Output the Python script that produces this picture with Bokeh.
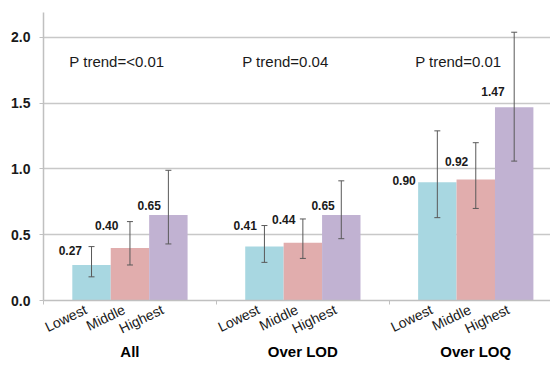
from bokeh.plotting import figure
from bokeh.models import (ColumnDataSource, Range1d, LinearAxis, FixedTicker, Whisker,
                          LabelSet, NumeralTickFormatter, TeeHead)
from bokeh.core.properties import value
from bokeh.embed import file_html
from bokeh.resources import INLINE

# ---- data ----
groups = ["All", "Over LOD", "Over LOQ"]
levels = ["Lowest", "Middle", "Highest"]
values_all = [0.27, 0.40, 0.65]
values_lod = [0.41, 0.44, 0.65]
values_loq = [0.90, 0.92, 1.47]
lower_all = [0.18, 0.27, 0.43]
lower_lod = [0.29, 0.32, 0.47]
lower_loq = [0.63, 0.70, 1.06]
upper_all = [0.41, 0.60, 0.99]
upper_lod = [0.57, 0.62, 0.91]
upper_loq = [1.29, 1.20, 2.04]
p_trend = ["P trend=<0.01", "P trend=0.04", "P trend=0.01"]
y_ticks = [0.0, 0.5, 1.0, 1.5, 2.0]
p_trend_y = 1.82

values = [values_all, values_lod, values_loq]
lowers = [lower_all, lower_lod, lower_loq]
uppers = [upper_all, upper_lod, upper_loq]

# ---- layout / style (not data) ----
colors = ["#A8D7E1", "#E1ADAD", "#C1B2D2"]
PITCH = 9      # group pitch in half-bar units
BAR = 2        # bar width in half-bar units
X0, X1 = -1.5, 24.89
LAB_SHIFT = 0.3   # shifts level labels slightly left
label_dx = [-2, -4, 0, 0, 0, 1, -14, 0, -2]
label_dy = [14, 22, 10, 21, 23, 10, 2, 18, 16]
FONT = "Liberation Sans"

xs, tops, los, his, cols, lab_x, lab_txt = [], [], [], [], [], [], []
for gi, g in enumerate(groups):
    for si, lev in enumerate(levels):
        cx = gi * PITCH + si * BAR + BAR / 2
        xs.append(cx)
        v = values[gi][si]
        tops.append(v)
        los.append(lowers[gi][si])
        his.append(uppers[gi][si])
        cols.append(colors[si])
        lab_x.append(cx - BAR / 2)
        lab_txt.append(f"{v:.2f}")

src = ColumnDataSource(dict(x=xs, top=tops, lower=los, upper=his, color=cols,
                            lx=lab_x, txt=lab_txt, dx=label_dx, dy=label_dy))

p = figure(width=550, height=362, x_range=Range1d(X0, X1), y_range=Range1d(0, 2.19),
           x_axis_type=None, output_backend="svg", toolbar_location=None,
           min_border_left=43, min_border_right=0, min_border_top=12, min_border_bottom=52)
p.extra_x_ranges = {"lab": Range1d(X0 + LAB_SHIFT, X1 + LAB_SHIFT)}
p.outline_line_color = None
p.background_fill_color = "white"
p.border_fill_color = "white"

p.vbar(x="x", top="top", bottom=0, width=BAR, fill_color="color", line_color=None, source=src)

grey = "#595959"
w = Whisker(source=src, base="x", upper="upper", lower="lower", line_color=grey, line_width=1,
            upper_head=TeeHead(size=6, line_color=grey, line_width=1),
            lower_head=TeeHead(size=6, line_color=grey, line_width=1), level="annotation")
p.add_layout(w)

labels = LabelSet(source=src, x="lx", y="top", text="txt", x_offset="dx", y_offset="dy",
                  text_align="center", text_baseline="middle", text_font=value(FONT),
                  text_font_size=value("12px"), text_font_style="bold", text_color="#1a1a1a")
p.add_layout(labels)

ptsrc = ColumnDataSource(dict(x=[gi * PITCH for gi in range(len(groups))],
                              y=[p_trend_y] * len(groups), t=p_trend))
pt = LabelSet(source=ptsrc, x="x", y="y", text="t", x_offset=-3, text_align="left",
              text_baseline="middle", text_font=value(FONT), text_font_size=value("15px"),
              text_color="#1a1a1a")
p.add_layout(pt)

# y axis
ax_grey = "#c0c0c0"
p.yaxis.ticker = FixedTicker(ticks=y_ticks)
p.yaxis.formatter = NumeralTickFormatter(format="0.0")
p.yaxis.major_label_text_font = FONT
p.yaxis.major_label_text_font_size = "14px"
p.yaxis.major_label_text_font_style = "bold"
p.yaxis.major_label_text_color = "#1a1a1a"
p.yaxis.axis_line_color = ax_grey
p.yaxis.axis_line_width = 1.5
p.yaxis.major_tick_line_color = ax_grey
p.yaxis.major_tick_out = 4
p.yaxis.major_tick_in = 0
p.yaxis.minor_tick_line_color = None
p.yaxis.major_label_standoff = 9
p.ygrid.ticker = FixedTicker(ticks=y_ticks)
p.ygrid.grid_line_color = "#c8c8c8"
p.ygrid.grid_line_width = 1.5

# x axis: level labels (on a slightly shifted range so labels end left of bar centres)
centers = xs
boundaries = [gi * PITCH - 1.5 + LAB_SHIFT for gi in range(len(groups))]
ax1 = LinearAxis(x_range_name="lab",
                 ticker=FixedTicker(ticks=centers, minor_ticks=boundaries),
                 major_label_overrides={int(c): levels[i % 3] for i, c in enumerate(centers)},
                 major_label_orientation=0.45,
                 major_tick_line_color=None, major_tick_out=0, major_tick_in=0,
                 minor_tick_line_color=ax_grey, minor_tick_out=4, minor_tick_in=0,
                 axis_line_color=ax_grey, axis_line_width=1.5,
                 major_label_standoff=4, major_label_text_font=FONT,
                 major_label_text_font_size="14px", major_label_text_color="#1a1a1a")
p.add_layout(ax1, "below")

# x axis: group labels
gcenters = [gi * PITCH + 3 for gi in range(len(groups))]
ax2 = LinearAxis(ticker=FixedTicker(ticks=gcenters),
                 major_label_overrides={int(c): groups[i] for i, c in enumerate(gcenters)},
                 axis_line_color=None, major_tick_line_color=None, minor_tick_line_color=None,
                 major_tick_out=0, major_tick_in=0, major_label_standoff=-4,
                 major_label_text_font=FONT, major_label_text_font_size="15px",
                 major_label_text_font_style="bold", major_label_text_color="#000000")
p.add_layout(ax2, "below")

open("out.html", "w").write(file_html(p, INLINE))
